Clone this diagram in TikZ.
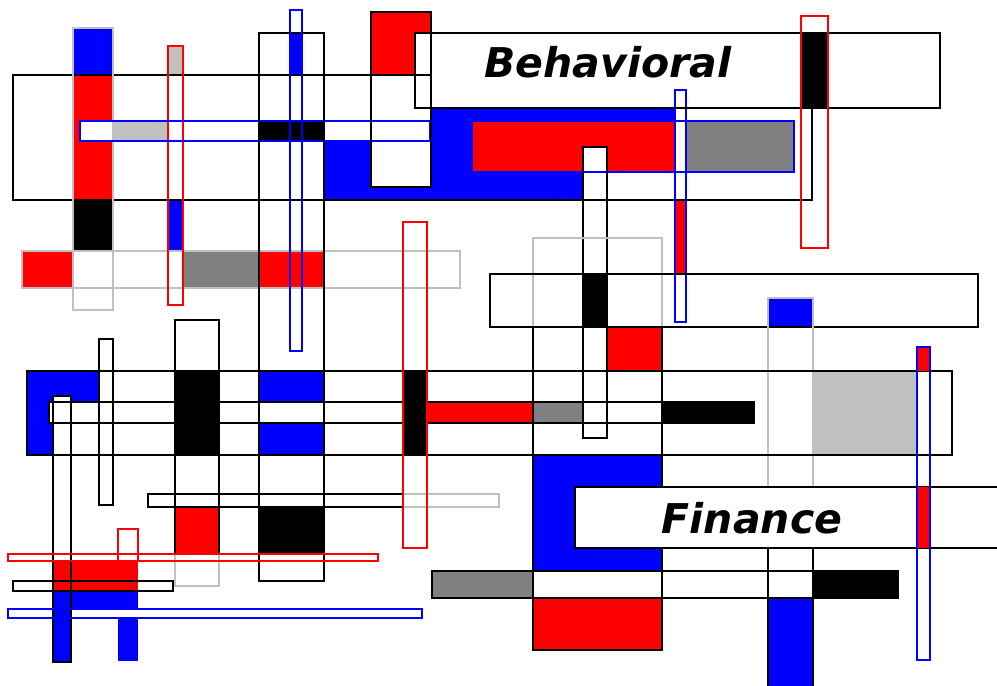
\documentclass[tikz,border=0pt]{standalone}
\usepackage{fontspec}
\newfontfamily\labelfont{DejaVu Sans}
\definecolor{mblue}{HTML}{0000FF}
\definecolor{mred}{HTML}{FF0000}
\definecolor{mgray}{HTML}{808080}
\definecolor{lgray}{HTML}{C0C0C0}
\begin{document}
\begin{tikzpicture}[x=1pt,y=-1pt,line width=1.4pt,
  blk/.style={draw=black},
  lgo/.style={draw=lgray},
  rdo/.style={draw=mred},
  blo/.style={draw=mblue},
  lbl/.style={font=\labelfont\bfseries\itshape\fontsize{41}{48}\selectfont,inner sep=0pt,anchor=base}]
\useasboundingbox (0,0) rectangle (997,686);
\clip (0,0) rectangle (997,686);
\fill[white] (0,0) rectangle (997,686);
% ---------- fills ----------
\fill[mred] (371,12) rectangle (431,75);
\fill[mblue] (324,121) -- (431,121) -- (431,108) -- (680,108) -- (680,172) -- (583,172) -- (583,200) -- (324,200) -- cycle;
\fill[white] (371,75) rectangle (431,187);
\fill[white] (415,33) rectangle (940,108);
\fill[mblue] (73,28) rectangle (113,75);
\fill[mred] (73,75) rectangle (113,200);
\fill[black] (73,200) rectangle (113,251);
\fill[white] (80,121) rectangle (430,141);
\fill[lgray] (113,121) rectangle (168,141);
\fill[black] (259,121) rectangle (324,141);
\fill[lgray] (168,46) rectangle (183,75);
\fill[mblue] (168,200) rectangle (183,251);
\fill[mred] (22,251) rectangle (73,288);
\fill[mgray] (184,251) rectangle (259,288);
\fill[mred] (259,251) rectangle (324,288);
\fill[mblue] (290,33) rectangle (302,75);
\fill[mred] (472,121) rectangle (675,172);
\fill[mgray] (686,121) rectangle (794,172);
\fill[white] (675,90) rectangle (686,322);
\fill[mred] (675,200) rectangle (686,274);
\fill[black] (801,33) rectangle (828,108);
\fill[white] (583,147) rectangle (607,438);
\fill[black] (583,274) rectangle (607,327);
\fill[mred] (607,327) rectangle (662,371);
\fill[mblue] (768,298) rectangle (813,327);
\fill[mblue] (27,371) -- (99,371) -- (99,402) -- (53,402) -- (53,455) -- (27,455) -- cycle;
\fill[white] (49,402) rectangle (754,423);
\fill[white] (53,396) rectangle (71,662);
\fill[black] (175,371) rectangle (219,455);
\fill[mblue] (259,371) rectangle (324,402);
\fill[mblue] (259,423) rectangle (324,455);
\fill[black] (403,371) rectangle (427,455);
\fill[mred] (427,402) rectangle (533,423);
\fill[mgray] (533,402) rectangle (583,423);
\fill[black] (662,402) rectangle (754,423);
\fill[lgray] (813,371) rectangle (917,455);
\fill[mblue] (533,455) rectangle (662,571);
\fill[mgray] (432,571) rectangle (533,598);
\fill[black] (813,571) rectangle (898,598);
\fill[mred] (533,598) rectangle (662,650);
\fill[mblue] (768,598) rectangle (813,686);
\fill[mred] (175,507) rectangle (219,554);
\fill[black] (259,507) rectangle (324,553);
\fill[mred] (53,561) rectangle (138,591);
\fill[mblue] (53,591) rectangle (138,609);
\fill[white] (8,609) rectangle (422,618);
\fill[mblue] (53,609) rectangle (71,662);
\fill[mblue] (118,618) rectangle (138,661);
% ---------- outlines ----------
\draw[blk] (431,75) -- (13,75) -- (13,200) -- (812,200) -- (812,108);
\draw[lgo] (73,28) rectangle (113,310);
\draw[lgo] (22,251) rectangle (460,288);
\draw[rdo] (168,46) rectangle (183,305);
\draw[blo] (80,121) rectangle (430,141);
\draw[blk] (259,33) rectangle (324,581);
\draw[blo] (290,10) rectangle (302,351);
\draw[blo] (472,121) rectangle (794,172);
\draw[blk] (583,147) rectangle (607,438);
\draw[blo] (675,90) rectangle (686,322);
\draw[lgo] (533,238) rectangle (662,327);
\draw[blk] (490,274) rectangle (978,327);
\draw[blk] (533,327) rectangle (662,650);
\draw[lgo] (768,298) rectangle (813,548);
\draw[blk] (768,548) -- (768,690) (813,548) -- (813,690);
\draw[blk] (27,371) rectangle (952,455);
\draw[blk] (49,402) rectangle (754,423);
\draw[blk] (99,339) rectangle (113,505);
\draw[lgo] (175,320) rectangle (219,586);
\draw[blk] (175,320) rectangle (219,554);
\draw[lgo] (148,494) rectangle (499,507);
\draw[blk] (148,494) rectangle (403,507);
\draw[rdo] (403,222) rectangle (427,548);
\draw[blk] (53,396) rectangle (71,662);
\draw[rdo] (8,554) rectangle (378,561);
\draw[rdo] (118,529) rectangle (138,561);
\draw[blk] (13,581) rectangle (173,591);
\draw[blo] (8,609) rectangle (422,618);
\draw[blk] (432,571) rectangle (898,598);
\draw[blk] (371,12) rectangle (431,187);
\draw[blk] (415,33) rectangle (940,108);
\draw[rdo] (801,16) rectangle (828,248);
\node[lbl] (beh) at (608,77) {Behavioral};
% ---------- Finance box ----------
\fill[white] (575,487) rectangle (1000,548);
\draw[blk] (1000,487) -- (575,487) -- (575,548) -- (1000,548);
\node[lbl] (fin) at (752,533) {Finance};
\fill[mred] (917,347) rectangle (930,371);
\fill[mred] (917,487) rectangle (930,548);
\draw[blo] (917,347) rectangle (930,660);
\end{tikzpicture}
\end{document}
